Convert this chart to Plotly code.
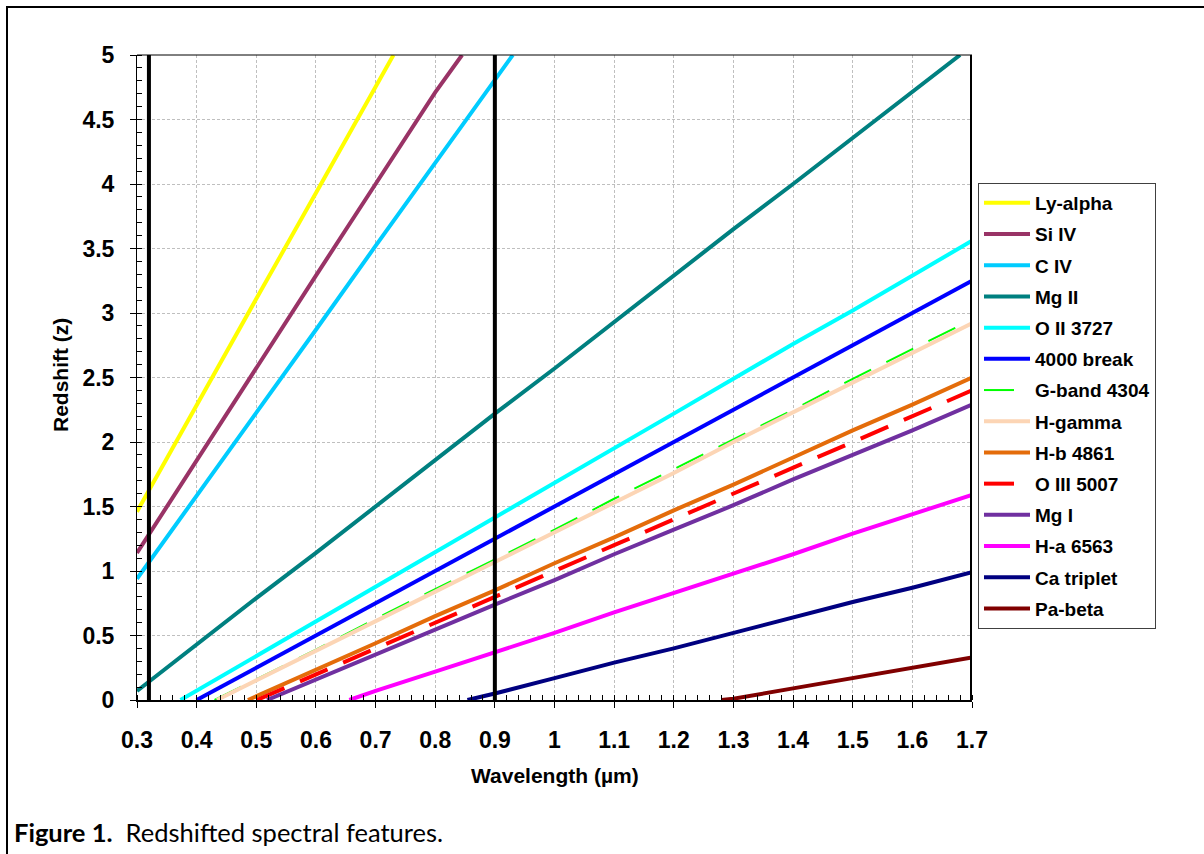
import plotly.graph_objects as go

# Observed wavelength (µm) vs redshift for each spectral feature
ly_alpha_x = [0.30, 0.40, 0.50, 0.60, 0.70, 0.73]
ly_alpha_z = [1.46, 2.29, 3.11, 3.93, 4.75, 5.00]

si_iv_x = [0.30, 0.40, 0.50, 0.60, 0.70, 0.80, 0.845]
si_iv_z = [1.14, 1.86, 2.57, 3.29, 4.00, 4.71, 5.00]

c_iv_x = [0.30, 0.40, 0.50, 0.60, 0.70, 0.80, 0.90, 0.93]
c_iv_z = [0.94, 1.58, 2.23, 2.87, 3.52, 4.16, 4.81, 5.00]

mg_ii_x = [0.30, 0.40, 0.50, 0.60, 0.70, 0.80, 0.90, 1.00, 1.10, 1.20, 1.30, 1.40, 1.50, 1.60, 1.68]
mg_ii_z = [0.07, 0.43, 0.79, 1.14, 1.50, 1.86, 2.22, 2.57, 2.93, 3.29, 3.65, 4.00, 4.36, 4.72, 5.00]

o_ii_x = [0.373, 0.50, 0.60, 0.70, 0.80, 0.90, 1.00, 1.10, 1.20, 1.30, 1.40, 1.50, 1.60, 1.70]
o_ii_z = [0.00, 0.34, 0.61, 0.88, 1.15, 1.41, 1.68, 1.95, 2.22, 2.49, 2.76, 3.02, 3.29, 3.56]

break_x = [0.40, 0.50, 0.60, 0.70, 0.80, 0.90, 1.00, 1.10, 1.20, 1.30, 1.40, 1.50, 1.60, 1.70]
break_z = [0.00, 0.25, 0.50, 0.75, 1.00, 1.25, 1.50, 1.75, 2.00, 2.25, 2.50, 2.75, 3.00, 3.25]

g_band_x = [0.430, 0.50, 0.60, 0.70, 0.80, 0.90, 1.00, 1.10, 1.20, 1.30, 1.40, 1.50, 1.60, 1.70]
g_band_z = [0.00, 0.16, 0.39, 0.63, 0.86, 1.09, 1.32, 1.56, 1.79, 2.02, 2.25, 2.49, 2.72, 2.95]

h_gamma_x = [0.434, 0.50, 0.60, 0.70, 0.80, 0.90, 1.00, 1.10, 1.20, 1.30, 1.40, 1.50, 1.60, 1.70]
h_gamma_z = [0.00, 0.15, 0.38, 0.61, 0.84, 1.07, 1.30, 1.53, 1.76, 2.00, 2.23, 2.46, 2.69, 2.92]

h_b_x = [0.486, 0.60, 0.70, 0.80, 0.90, 1.00, 1.10, 1.20, 1.30, 1.40, 1.50, 1.60, 1.70]
h_b_z = [0.00, 0.23, 0.44, 0.65, 0.85, 1.06, 1.26, 1.47, 1.67, 1.88, 2.09, 2.29, 2.50]

o_iii_x = [0.501, 0.60, 0.70, 0.80, 0.90, 1.00, 1.10, 1.20, 1.30, 1.40, 1.50, 1.60, 1.70]
o_iii_z = [0.00, 0.20, 0.40, 0.60, 0.80, 1.00, 1.20, 1.40, 1.60, 1.80, 2.00, 2.20, 2.40]

mg_i_x = [0.518, 0.60, 0.70, 0.80, 0.90, 1.00, 1.10, 1.20, 1.30, 1.40, 1.50, 1.60, 1.70]
mg_i_z = [0.00, 0.16, 0.35, 0.55, 0.74, 0.93, 1.13, 1.32, 1.51, 1.71, 1.90, 2.09, 2.29]

h_a_x = [0.656, 0.70, 0.80, 0.90, 1.00, 1.10, 1.20, 1.30, 1.40, 1.50, 1.60, 1.70]
h_a_z = [0.00, 0.07, 0.22, 0.37, 0.52, 0.68, 0.83, 0.98, 1.13, 1.29, 1.44, 1.59]

ca_x = [0.854, 0.90, 1.00, 1.10, 1.20, 1.30, 1.40, 1.50, 1.60, 1.70]
ca_z = [0.00, 0.05, 0.17, 0.29, 0.40, 0.52, 0.64, 0.76, 0.87, 0.99]

pa_b_x = [1.28, 1.30, 1.40, 1.50, 1.60, 1.70]
pa_b_z = [0.00, 0.01, 0.09, 0.17, 0.25, 0.33]

# Detector band edges (µm), drawn as heavy vertical lines
band_edges = [0.32, 0.90, 1.70]

series = [
    ("Ly-alpha", ly_alpha_x, ly_alpha_z, "#FFFF00", 4, "solid"),
    ("Si IV", si_iv_x, si_iv_z, "#993366", 4, "solid"),
    ("C IV", c_iv_x, c_iv_z, "#00CCFF", 4, "solid"),
    ("Mg II", mg_ii_x, mg_ii_z, "#008080", 4, "solid"),
    ("O II 3727", o_ii_x, o_ii_z, "#00FFFF", 4, "solid"),
    ("4000 break", break_x, break_z, "#0000FF", 4, "solid"),
    ("G-band 4304", g_band_x, g_band_z, "#00FF00", 2, "30px,17px"),
    ("H-gamma", h_gamma_x, h_gamma_z, "#FCD5B5", 4, "solid"),
    ("H-b 4861", h_b_x, h_b_z, "#E46C0A", 4, "solid"),
    ("O III 5007", o_iii_x, o_iii_z, "#FF0000", 4, "30px,17px"),
    ("Mg I", mg_i_x, mg_i_z, "#7030A0", 4, "solid"),
    ("H-a 6563", h_a_x, h_a_z, "#FF00FF", 4, "solid"),
    ("Ca triplet", ca_x, ca_z, "#000080", 4, "solid"),
    ("Pa-beta", pa_b_x, pa_b_z, "#800000", 4, "solid"),
]

fig = go.Figure()

for i, (name, xs, zs, color, width, dash) in enumerate(series):
    fig.add_trace(go.Scatter(
        x=xs, y=zs, mode="lines", name=name,
        legendgroup=f"g{i}",
        line=dict(color=color, width=width, dash=dash),
        hoverinfo="x+y+name",
    ))

for edge in band_edges:
    fig.add_trace(go.Scatter(
        x=[edge, edge], y=[0, 5], mode="lines", showlegend=False,
        line=dict(color="black", width=4), hoverinfo="x",
    ))

W, H = 1204, 854
L, R, T, B = 137, 232, 55, 154
pw, ph = W - L - R, H - T - B


def px_x(p):
    return (p - L) / pw


def px_y(p):
    return (H - B - p) / ph


bold = "Liberation Sans, Arial, sans-serif"
tick_font = dict(family=bold, size=23, color="black", weight="bold")

fig.update_layout(
    width=W, height=H,
    margin=dict(l=L, r=R, t=T, b=B, autoexpand=False),
    paper_bgcolor="white", plot_bgcolor="white",
    showlegend=True,
    legend=dict(
        x=px_x(978), y=px_y(183), xanchor="left", yanchor="top",
        bordercolor="#404040", borderwidth=1, bgcolor="white",
        font=dict(family=bold, size=19, color="black", weight="bold"),
        tracegroupgap=3.5, itemwidth=46,
    ),
    xaxis=dict(
        range=[0.3, 1.7], dtick=0.1, tick0=0.3,
        showgrid=True, gridcolor="#BFBFBF", griddash="3px,2px", gridwidth=1,
        zeroline=False,
        showline=True, linecolor="black", linewidth=2, mirror=False,
        ticks="outside", ticklen=6, tickcolor="black", tickwidth=1,
        ticklabelstandoff=12,
        tickfont=tick_font,
        minor=dict(dtick=0.02, ticks="inside", ticklen=5, tickcolor="black", showgrid=False),
    ),
    yaxis=dict(
        range=[0, 5], dtick=0.5, tick0=0,
        showgrid=True, gridcolor="#BFBFBF", griddash="3px,2px", gridwidth=1,
        zeroline=False,
        showline=True, linecolor="black", linewidth=1, mirror=False,
        ticks="outside", ticklen=6, tickcolor="black", tickwidth=1,
        ticklabelstandoff=11,
        tickfont=tick_font,
        minor=dict(dtick=0.1, ticks="inside", ticklen=5, tickcolor="black", showgrid=False),
    ),
    annotations=[
        dict(text="Wavelength (µm)", xref="paper", yref="paper",
             x=0.5, y=px_y(775), xanchor="center", yanchor="middle", showarrow=False,
             font=dict(family=bold, size=21, color="black", weight="bold")),
        dict(text="Redshift (z)", xref="paper", yref="paper",
             x=px_x(60), y=px_y(375), xanchor="center", yanchor="middle", showarrow=False,
             textangle=-90,
             font=dict(family=bold, size=21, color="black", weight="bold")),
        dict(text="<b>Figure 1.</b>  Redshifted spectral features.", xref="paper", yref="paper",
             x=px_x(12), y=px_y(832), xanchor="left", yanchor="middle", showarrow=False,
             font=dict(family="Lato, Open Sans, sans-serif", size=25.5, color="black")),
    ],
    shapes=[
        # top edge of the plotting area
        dict(type="line", xref="paper", yref="paper", x0=0, x1=1, y0=1, y1=1,
             line=dict(color="black", width=1)),
        # page frame
        dict(type="line", xref="paper", yref="paper", x0=px_x(6), x1=px_x(W + 10),
             y0=px_y(7), y1=px_y(7), line=dict(color="black", width=2)),
        dict(type="line", xref="paper", yref="paper", x0=px_x(7), x1=px_x(7),
             y0=px_y(6), y1=px_y(H + 10), line=dict(color="black", width=2)),
    ],
)

fig.write_html("out.html")
